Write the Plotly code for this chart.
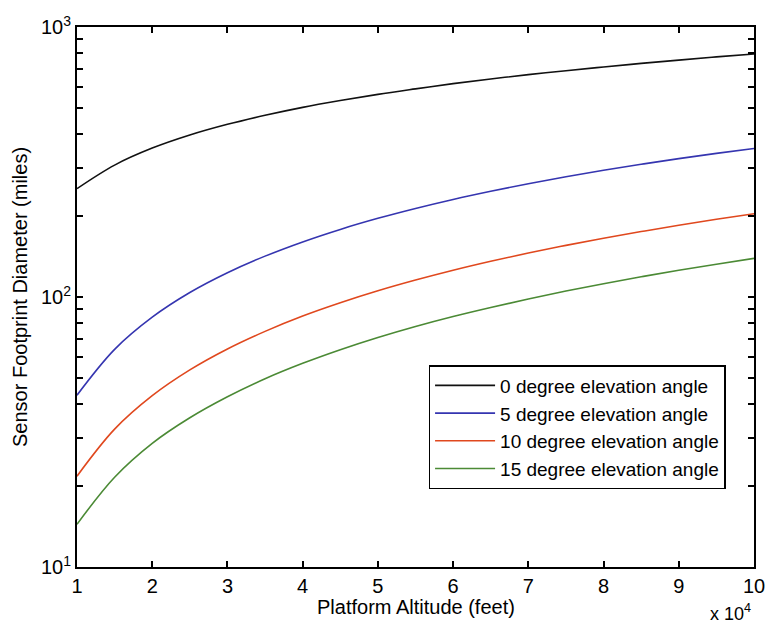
import plotly.graph_objects as go

# Platform altitude (x 10^4 feet)
altitude = [1, 1.5, 2, 2.5, 3, 3.5, 4, 4.5, 5, 5.5, 6, 6.5, 7, 7.5, 8, 8.5, 9, 9.5, 10]

# Sensor footprint diameter (miles)
deg0 = [252, 308, 356, 398, 436, 471, 504, 534, 563, 590, 617, 642, 666, 689, 711, 733, 754, 775, 794]
deg5 = [43.3, 64.0, 84.2, 103.9, 123, 141.7, 160, 178.0, 195.6, 212.8, 229.8,
        246.4, 262.8, 278.8, 294.6, 310.1, 325.4, 340.3, 355]
deg10 = [21.7, 32.4, 43.1, 53.7, 64.2, 74.6, 85.0, 95.2, 105.4, 115.5, 125.6,
         135.6, 145.5, 155.3, 165.0, 174.7, 184.4, 194.0, 203.5]
deg15 = [14.4, 21.5, 28.7, 35.7, 42.7, 49.8, 56.8, 63.8, 70.8, 77.8, 84.7,
         91.5, 98.3, 105.2, 112.0, 118.8, 125.6, 132.3, 139.0]

series_names = ["0 degree elevation angle", "5 degree elevation angle",
                "10 degree elevation angle", "15 degree elevation angle"]
series_values = [deg0, deg5, deg10, deg15]
series_colors = ["#111111", "#3535b0", "#e0481e", "#4b8a35"]

x_ticks = list(range(1, 11))
y_ticks = [v * m for m in (10, 100) for v in range(1, 10)] + [1000]
y_ticktext = ["10<sup>1</sup>" if v == 10 else "10<sup>2</sup>" if v == 100
              else "10<sup>3</sup>" if v == 1000 else "" for v in y_ticks]

FONT = "Liberation Sans, Arial, sans-serif"

fig = go.Figure()
for name, vals, col in zip(series_names, series_values, series_colors):
    fig.add_trace(go.Scatter(x=altitude, y=vals, mode="lines", name=name,
                             line=dict(color=col, width=1.6, shape="spline", smoothing=1)))

axis_common = dict(showline=True, linecolor="black", linewidth=2, mirror="ticks",
                   ticks="inside", ticklen=6, tickwidth=1.5, tickcolor="black",
                   showgrid=False, zeroline=False, automargin=False,
                   ticklabeloverflow="allow",
                   tickfont=dict(family=FONT, size=20, color="black"))

fig.update_layout(
    width=765, height=628,
    margin=dict(l=77, r=11, t=27, b=61),
    paper_bgcolor="white", plot_bgcolor="white",
    font=dict(family=FONT, color="black"),
    xaxis=dict(range=[1, 10], tickvals=x_ticks, **axis_common),
    yaxis=dict(type="log", range=[1, 3], tickvals=y_ticks, ticktext=y_ticktext,
               **axis_common),
    legend=dict(x=0.958, y=0.374, xanchor="right", yanchor="top",
                bgcolor="white", bordercolor="black", borderwidth=1.5,
                font=dict(family=FONT, size=19, color="black"),
                tracegroupgap=0, itemwidth=60),
    showlegend=True,
)

fig.add_annotation(text="Platform Altitude (feet)", xref="paper", yref="paper",
                   x=0.5, y=0, yshift=-40, showarrow=False,
                   font=dict(family=FONT, size=20), xanchor="center", yanchor="middle")
fig.add_annotation(text="Sensor Footprint Diameter (miles)", xref="paper", yref="paper",
                   x=0, xshift=-57, y=0.5, showarrow=False, textangle=-90,
                   font=dict(family=FONT, size=20), xanchor="center", yanchor="middle")
fig.add_annotation(text="x 10<sup>4</sup>", xref="paper", yref="paper",
                   x=1, xshift=-1, y=0, yshift=-45, showarrow=False,
                   font=dict(family=FONT, size=18), xanchor="right", yanchor="middle")

fig.write_html("out.html")
